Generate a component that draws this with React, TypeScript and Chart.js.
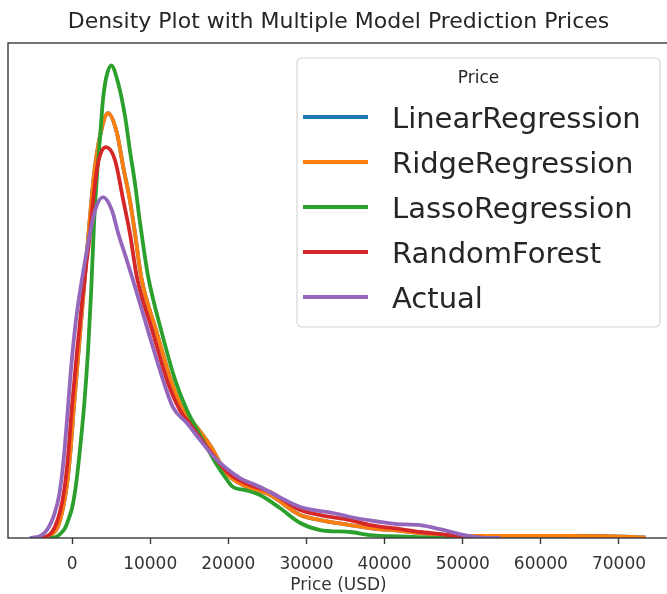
import React, { useEffect, useRef } from "react";
import { Chart, registerables } from "chart.js";

Chart.register(...registerables);

// ---------- data ----------
const chartTitle = "Density Plot with Multiple Model Prediction Prices";
const xAxisLabel = "Price (USD)";
const legendTitle = "Price";
const seriesNames = ["LinearRegression", "RidgeRegression", "LassoRegression", "RandomForest", "Actual"];
const seriesColors = ["#1f77b4", "#ff7f0e", "#2ca02c", "#d62728", "#9467bd"];
const xTicks = [0, 10000, 20000, 30000, 40000, 50000, 60000, 70000];
const xMin = -8200;
const xMax = 76400;
const yMax = 7.33; // density x 1e-5

// [price (USD), density x 1e-5]
const linearDensity: [number, number][] = [
  [-4100, 0], [-3200, 0.015], [-2550, 0.059], [-1900, 0.148], [-1300, 0.37], [-750, 0.71], [-250, 1.228],
  [250, 1.968], [900, 2.856], [1550, 3.744], [2200, 4.632], [2800, 5.372], [3600, 5.964], [4600, 6.29],
  [5750, 5.994], [6550, 5.491], [7400, 5.002], [8050, 4.514], [8850, 3.863], [10750, 3.078], [12650, 2.338],
  [14200, 1.894], [15750, 1.672], [17650, 1.376], [19850, 0.947], [22150, 0.77], [25350, 0.636], [29200, 0.34],
  [31750, 0.266], [35600, 0.192], [38150, 0.148], [42000, 0.104], [45800, 0.059], [49650, 0.035], [54800, 0.03],
  [62500, 0.03], [68000, 0.028], [73400, 0.008],
];
const ridgeDensity: [number, number][] = [
  [-4100, 0], [-3200, 0.015], [-2550, 0.059], [-1900, 0.148], [-1300, 0.37], [-750, 0.71], [-250, 1.228],
  [250, 1.968], [900, 2.856], [1550, 3.744], [2200, 4.632], [2800, 5.372], [3600, 5.964], [4600, 6.29],
  [5750, 5.994], [6550, 5.491], [7400, 5.002], [8050, 4.514], [8850, 3.863], [10750, 3.078], [12650, 2.338],
  [14200, 1.894], [15750, 1.672], [17650, 1.376], [19850, 0.947], [22150, 0.77], [25350, 0.636], [29200, 0.34],
  [31750, 0.266], [35600, 0.192], [38150, 0.148], [42000, 0.104], [45800, 0.059], [49650, 0.035], [54800, 0.03],
  [62500, 0.03], [68000, 0.028], [73400, 0.008],
];
const lassoDensity: [number, number][] = [
  [-2800, 0], [-2050, 0.015], [-1400, 0.074], [-900, 0.148], [-400, 0.296], [0, 0.444], [500, 0.784],
  [1000, 1.302], [1550, 1.968], [2050, 2.782], [2450, 3.67], [2800, 4.632], [3200, 5.372], [3600, 5.964],
  [3950, 6.482], [4350, 6.808], [5000, 7.0], [5900, 6.734], [6800, 6.231], [7400, 5.742], [8050, 5.254],
  [8600, 4.751], [9200, 4.262], [9750, 3.863], [11400, 3.078], [13200, 2.338], [14700, 1.894], [16400, 1.524],
  [18300, 1.125], [19850, 0.858], [20600, 0.755], [22150, 0.71], [24050, 0.636], [26600, 0.444], [29200, 0.222],
  [31750, 0.118], [35600, 0.089], [38150, 0.044], [42000, 0.022], [45800, 0.007], [49650, 0],
];
const forestDensity: [number, number][] = [
  [-4350, 0], [-3450, 0.015], [-2800, 0.059], [-2200, 0.163], [-1550, 0.385], [-1000, 0.71], [-500, 1.228],
  [0, 1.968], [650, 2.782], [1300, 3.522], [1800, 4.04], [2200, 4.41], [2700, 5.002], [3350, 5.565],
  [4350, 5.787], [5500, 5.594], [6550, 5.002], [7400, 4.514], [8300, 3.863], [10250, 3.078], [12150, 2.338],
  [13800, 1.894], [15100, 1.687], [16400, 1.48], [18050, 1.228], [19850, 0.977], [22150, 0.814], [25350, 0.681],
  [29200, 0.414], [31750, 0.34], [35600, 0.266], [38150, 0.192], [42000, 0.133], [44550, 0.089], [47100, 0.059],
  [50300, 0.015], [53500, 0],
];
const actualDensity: [number, number][] = [
  [-5400, 0], [-4500, 0.015], [-3850, 0.044], [-3050, 0.148], [-2300, 0.34], [-1650, 0.636], [-1150, 1.08],
  [-650, 1.746], [-150, 2.486], [500, 3.226], [1150, 3.744], [1900, 4.262], [2300, 4.514], [2950, 4.854],
  [3950, 5.047], [5100, 4.854], [5900, 4.514], [6800, 4.188], [7800, 3.818], [9700, 3.078], [11650, 2.338],
  [12900, 1.939], [14700, 1.702], [16400, 1.45], [18050, 1.214], [19850, 1.021], [21500, 0.888], [24050, 0.755],
  [27000, 0.577], [29200, 0.459], [33400, 0.37], [35600, 0.311], [38150, 0.26], [41350, 0.21], [44550, 0.19],
  [47100, 0.13], [49900, 0.05], [52200, 0.007], [54800, 0],
];
const seriesData = [linearDensity, ridgeDensity, lassoDensity, forestDensity, actualDensity];

const FONT = '"DejaVu Sans", "Liberation Sans", sans-serif';

const decorPlugin = {
  id: "mplDecor",
  afterDatasetsDraw(chart: any) {
    const { ctx, chartArea: ca } = chart;
    ctx.save();
    // frame (spines)
    ctx.strokeStyle = "#3a3a3a";
    ctx.lineWidth = 1.4;
    ctx.strokeRect(ca.left, ca.top, ca.right - ca.left, ca.bottom - ca.top);

    // legend
    const right = ca.right - 9;
    const top = ca.top + 15;
    const w = 363;
    const h = 269;
    const left = right - w;
    ctx.beginPath();
    ctx.roundRect(left, top, w, h, 5);
    ctx.fillStyle = "rgba(255,255,255,0.85)";
    ctx.fill();
    ctx.strokeStyle = "#d6d6d6";
    ctx.lineWidth = 1.2;
    ctx.stroke();

    ctx.fillStyle = "#262626";
    ctx.textAlign = "center";
    ctx.textBaseline = "middle";
    ctx.font = `17px ${FONT}`;
    ctx.fillText(legendTitle, left + w / 2, top + 21);

    ctx.textAlign = "left";
    ctx.textBaseline = "alphabetic";
    ctx.font = `29px ${FONT}`;
    chart.data.datasets.forEach((ds: any, i: number) => {
      const cy = top + 59 + i * 45;
      ctx.strokeStyle = ds.borderColor;
      ctx.lineWidth = 3.8;
      ctx.beginPath();
      ctx.moveTo(left + 6, cy);
      ctx.lineTo(left + 71, cy);
      ctx.stroke();
      ctx.fillStyle = "#262626";
      ctx.fillText(ds.label, left + 95, cy + 10.5);
    });

    // title
    ctx.textAlign = "center";
    ctx.textBaseline = "middle";
    ctx.font = `22px ${FONT}`;
    ctx.fillStyle = "#262626";
    ctx.fillText(chartTitle, (ca.left + ca.right) / 2, 22);
    ctx.restore();
  },
};

export default function App() {
  const canvasRef = useRef<HTMLCanvasElement | null>(null);

  useEffect(() => {
    if (!canvasRef.current) return;
    const chart = new Chart(canvasRef.current, {
      type: "line",
      data: {
        datasets: seriesNames.map((name, i) => ({
          label: name,
          data: seriesData[i].map(([x, y]) => ({ x, y })),
          borderColor: seriesColors[i],
          backgroundColor: seriesColors[i],
          borderWidth: 3.8,
          pointRadius: 0,
          fill: false,
          cubicInterpolationMode: "monotone" as const,
          order: seriesNames.length - i,
        })),
      },
      options: {
        animation: false,
        responsive: false,
        devicePixelRatio: 1,
        layout: { padding: { left: 8, top: 43, right: 0, bottom: 0 } },
        plugins: {
          legend: { display: false },
          tooltip: { enabled: false },
          title: { display: false },
        },
        scales: {
          x: {
            type: "linear",
            min: xMin,
            max: xMax,
            afterBuildTicks: (s: any) => {
              s.ticks = xTicks.map((v) => ({ value: v }));
            },
            afterFit: (s: any) => {
              s.height = 56;
            },
            grid: {
              display: true,
              drawOnChartArea: false,
              drawTicks: true,
              tickLength: 6,
              tickWidth: 1.4,
              tickColor: "#3a3a3a",
            },
            border: { display: false },
            ticks: {
              font: { family: FONT, size: 17 },
              color: "#333",
              padding: 10,
              maxRotation: 0,
              autoSkip: false,
              callback: (v: any) => String(v),
            },
            title: {
              display: true,
              text: xAxisLabel,
              font: { family: FONT, size: 17, lineHeight: 0.9 },
              color: "#333",
              padding: { top: 0, bottom: 0.5 },
            },
          },
          y: { display: false, min: 0, max: yMax },
        },
      },
      plugins: [decorPlugin],
    });
    return () => chart.destroy();
  }, []);

  return (
    <div
      style={{
        position: "absolute",
        left: 0,
        top: 0,
        width: 667,
        height: 594,
        overflow: "hidden",
        background: "#fff",
      }}
    >
      <canvas ref={canvasRef} width={669} height={594} style={{ display: "block" }} />
    </div>
  );
}
